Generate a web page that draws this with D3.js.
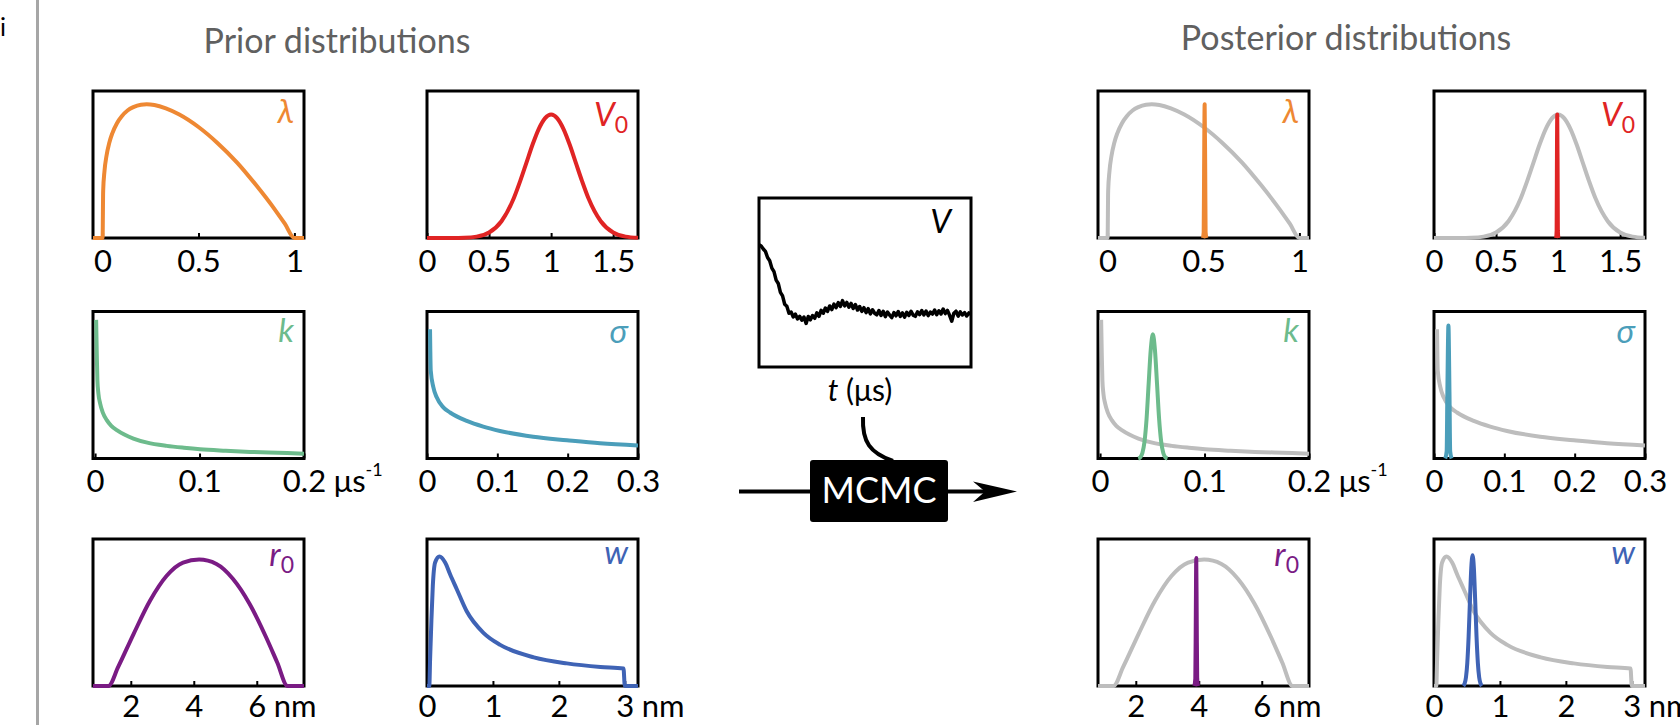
<!DOCTYPE html>
<html>
<head>
<meta charset="utf-8">
<script src="https://cdn.jsdelivr.net/npm/d3@7"></script>
<style>
  body { margin: 0; background: #fff; }
  svg { display: block; font-family: Lato, "Open Sans", sans-serif; }
</style>
</head>
<body>
<div id="viz"></div>
<script>
/*######################################
#   Prior curves #
######################################*/
const lambdaX = [-0.05, 0, 0.003, 0.01, 0.02, 0.035, 0.05, 0.075, 0.1, 0.13, 0.16, 0.2, 0.23, 0.27, 0.33, 0.4, 0.5, 0.6, 0.7, 0.8, 0.9, 0.95, 1.0, 1.05];
const lambdaY = [0, 0, 0.32, 0.457, 0.556, 0.648, 0.71, 0.781, 0.828, 0.867, 0.89, 0.907, 0.91, 0.905, 0.882, 0.84, 0.755, 0.645, 0.515, 0.36, 0.19, 0.097, 0, 0];

const v0X = [0, 0.2, 0.3, 0.4, 0.5, 0.6, 0.7, 0.75, 0.8, 0.85, 0.9, 0.95, 1.0, 1.05, 1.1, 1.15, 1.2, 1.25, 1.3, 1.4, 1.5, 1.6, 1.7];
const v0Y = [0, 0.0003, 0.0018, 0.0094, 0.037, 0.114, 0.272, 0.385, 0.509, 0.634, 0.741, 0.814, 0.84, 0.814, 0.741, 0.634, 0.509, 0.385, 0.272, 0.114, 0.037, 0.0094, 0.0018];

const kX = [0.001, 0.0016, 0.0022, 0.0032, 0.0048, 0.0075, 0.0112, 0.0155, 0.0208, 0.028, 0.0367, 0.05, 0.0686, 0.085, 0.1005, 0.125, 0.1483, 0.175, 0.2];
const kY = [0.943, 0.716, 0.534, 0.44, 0.375, 0.31, 0.261, 0.222, 0.193, 0.163, 0.136, 0.108, 0.086, 0.073, 0.063, 0.053, 0.045, 0.039, 0.033];

const sigmaX = [0.0043, 0.0047, 0.0053, 0.009, 0.0138, 0.0232, 0.0327, 0.0565, 0.08, 0.1038, 0.151, 0.199, 0.246, 0.3];
const sigmaY = [0.879, 0.737, 0.6, 0.485, 0.416, 0.348, 0.313, 0.256, 0.217, 0.1875, 0.148, 0.124, 0.103, 0.088];

const r0X = [0.8, 1.29, 1.6, 2.08, 2.61, 3.14, 3.66, 4.17, 4.72, 5.24, 5.77, 6.3, 6.65, 6.98, 7.5];
const r0Y = [0, 0, 0.13, 0.35, 0.58, 0.75, 0.84, 0.86, 0.83, 0.73, 0.56, 0.33, 0.16, 0, 0];

const wX = [0, 0.035, 0.047, 0.067, 0.088, 0.123, 0.189, 0.275, 0.35, 0.45, 0.6, 0.86, 1.11, 1.62, 2.12, 2.63, 2.98, 3.0, 3.2];
const wY = [0, 0, 0.18, 0.45, 0.68, 0.84, 0.881, 0.84, 0.76, 0.66, 0.51, 0.36, 0.28, 0.195, 0.154, 0.13, 0.12, 0, 0];

/*##########################################
#   Posterior curves #
##########################################*/
const lambdaPostX = [0.497, 0.501, 0.503, 0.506, 0.509, 0.511, 0.515];
const lambdaPostY = [0, 0.04, 0.45, 0.91, 0.45, 0.04, 0];

const v0PostX = [0.984, 0.988, 0.99, 0.993, 0.996, 0.998, 1.002];
const v0PostY = [0, 0.05, 0.45, 0.84, 0.45, 0.05, 0];

const kPostX = [0.0365, 0.0385, 0.0405, 0.0425, 0.0445, 0.0465, 0.0485, 0.0505, 0.0525, 0.0545, 0.0565, 0.0585, 0.0605, 0.0625, 0.0645];
const kPostY = [0, 0.009, 0.037, 0.114, 0.27, 0.51, 0.74, 0.845, 0.74, 0.51, 0.27, 0.114, 0.037, 0.009, 0];

const sigmaPostX = [0.016, 0.018, 0.019, 0.0205, 0.022, 0.023, 0.025];
const sigmaPostY = [0, 0.05, 0.45, 0.905, 0.45, 0.05, 0];

const r0PostX = [3.86, 3.89, 3.905, 3.92, 3.935, 3.95, 3.98];
const r0PostY = [0, 0.05, 0.45, 0.87, 0.45, 0.05, 0];

const wPostX = [0.445, 0.465, 0.485, 0.505, 0.525, 0.545, 0.565, 0.585, 0.605, 0.625, 0.645, 0.665, 0.685, 0.705, 0.725];
const wPostY = [0, 0.018, 0.06, 0.158, 0.336, 0.578, 0.80, 0.89, 0.80, 0.578, 0.336, 0.158, 0.06, 0.018, 0];

/*##############################
#   Measured trace V(t)        #
###############################*/
const traceV = [
  0.724, 0.716, 0.698, 0.684, 0.648, 0.629, 0.585, 0.564, 0.514, 0.494,
  0.442, 0.421, 0.371, 0.359, 0.318, 0.325, 0.296, 0.313, 0.284, 0.300,
  0.277, 0.296, 0.258, 0.299, 0.279, 0.305, 0.288, 0.320, 0.300, 0.335,
  0.318, 0.349, 0.329, 0.361, 0.340, 0.372, 0.351, 0.381, 0.358, 0.393,
  0.362, 0.382, 0.354, 0.376, 0.346, 0.370, 0.337, 0.358, 0.329, 0.351,
  0.322, 0.345, 0.314, 0.339, 0.318, 0.309, 0.334, 0.305, 0.330, 0.298,
  0.325, 0.307, 0.292, 0.322, 0.303, 0.328, 0.299, 0.320, 0.295, 0.324,
  0.305, 0.330, 0.307, 0.300, 0.326, 0.310, 0.334, 0.308, 0.331, 0.304,
  0.325, 0.313, 0.337, 0.309, 0.333, 0.314, 0.343, 0.316, 0.335, 0.306,
  0.271, 0.318, 0.330, 0.301, 0.326, 0.308, 0.322, 0.302, 0.320, 0.311
];

/*##############################
#   Axes                       #
###############################*/
const lambdaDomain = [-0.05, 1.05], lambdaTicks = [0, 0.5, 1];
const v0Domain = [0, 1.7],          v0Ticks = [0, 0.5, 1, 1.5];
const kDomain = [-0.002, 0.2],      kTicks = [0, 0.1, 0.2];
const sigmaDomain = [0, 0.3],       sigmaTicks = [0, 0.1, 0.2, 0.3];
const r0Domain = [0.8, 7.5],        r0Ticks = [2, 4, 6];
const wDomain = [0, 3.2],           wTicks = [0, 1, 2, 3];

const titles = ["Prior distributions", "Posterior distributions"];

/*##############################
#   Layout                     #
###############################*/
const W = 1680, H = 725;
const boxW = 211, boxH = 147;
const priorCols = [93, 427], postCols = [1098, 1434];
const rowTops = [91, 311.5, 539];
const rowPad = [11.5, 11.5, 9];
const gray = "#BDBDBD";
const font = "Lato, 'Open Sans', sans-serif";
const tickFont = 31;

const panels = [
  {label: "λ", sub: "", color: "#EE8833", domain: lambdaDomain, ticks: lambdaTicks, pX: lambdaX, pY: lambdaY, qX: lambdaPostX, qY: lambdaPostY, unit: null, row: 0, col: 0, ly: 32},
  {label: "V", sub: "0", color: "#E02424", domain: v0Domain, ticks: v0Ticks, pX: v0X, pY: v0Y, qX: v0PostX, qY: v0PostY, unit: null, row: 0, col: 1, ly: 35},
  {label: "k", sub: "", color: "#6DBB8C", domain: kDomain, ticks: kTicks, pX: kX, pY: kY, qX: kPostX, qY: kPostY, unit: "μs", row: 1, col: 0, ly: 30},
  {label: "σ", sub: "", color: "#4B9EBA", domain: sigmaDomain, ticks: sigmaTicks, pX: sigmaX, pY: sigmaY, qX: sigmaPostX, qY: sigmaPostY, unit: null, row: 1, col: 1, ly: 31},
  {label: "r", sub: "0", color: "#7A1B84", domain: r0Domain, ticks: r0Ticks, pX: r0X, pY: r0Y, qX: r0PostX, qY: r0PostY, unit: "nm", row: 2, col: 0, ly: 27},
  {label: "w", sub: "", color: "#3F63B5", domain: wDomain, ticks: wTicks, pX: wX, pY: wY, qX: wPostX, qY: wPostY, unit: "nm", row: 2, col: 1, ly: 25}
];

const svg = d3.select("#viz").append("svg")
    .attr("width", W)
    .attr("height", H)
    .style("background", "#fff");

// panel letter and separator on the far left
svg.append("text")
    .attr("x", 0).attr("y", 36)
    .attr("font-size", 25)
    .attr("font-family", font)
    .text("i");
svg.append("line")
    .attr("x1", 37.5).attr("x2", 37.5)
    .attr("y1", 0).attr("y2", H)
    .attr("stroke", "#A6A6A6").attr("stroke-width", 3);

// titles
svg.append("text")
    .attr("x", 337).attr("y", 53)
    .attr("text-anchor", "middle")
    .attr("font-size", 34).attr("fill", "#606060")
    .attr("font-family", font)
    .text(titles[0]);
svg.append("text")
    .attr("x", 1346).attr("y", 50)
    .attr("text-anchor", "middle")
    .attr("font-size", 34).attr("fill", "#606060")
    .attr("font-family", font)
    .text(titles[1]);

function drawPanel(left, top, p, isPost) {
    const g = svg.append("g").attr("transform", "translate(" + left + "," + top + ")");
    const x = d3.scaleLinear().domain(p.domain).range([0, boxW]);
    const y = d3.scaleLinear().domain([0, 1]).range([boxH, 0]);
    const line = d3.line()
        .x(function (d) { return x(d[0]); })
        .y(function (d) { return y(d[1]); })
        .curve(d3.curveMonotoneX);
    const pad = rowPad[p.row];

    // frame
    g.append("rect")
        .attr("width", boxW).attr("height", boxH)
        .attr("fill", "none").attr("stroke", "#000").attr("stroke-width", 3);

    // bottom axis with inward ticks
    const axis = g.append("g")
        .attr("transform", "translate(0," + boxH + ")")
        .call(d3.axisBottom(x).tickValues(p.ticks).tickSize(-5).tickPadding(pad)
            .tickFormat(function (d) { return String(d); }));
    axis.select(".domain").remove();
    axis.selectAll(".tick line").attr("stroke", "#000").attr("stroke-width", 2);
    axis.selectAll(".tick text")
        .attr("font-size", tickFont).attr("fill", "#000").attr("font-family", font);

    // unit written after the last tick label
    if (p.unit) {
        const lastText = axis.selectAll(".tick text").nodes().pop();
        const bb = lastText.getBBox();
        const ux = x(p.ticks[p.ticks.length - 1]) + bb.x + bb.width + 8;
        const u = axis.append("text")
            .attr("x", ux).attr("y", pad).attr("dy", "0.71em")
            .attr("text-anchor", "start")
            .attr("font-size", tickFont).attr("fill", "#000").attr("font-family", font)
            .text(p.unit);
        if (p.unit == "μs") {
            u.append("tspan").attr("dy", -16).attr("font-size", 18).text("-1");
        }
    }

    // curves: grey prior behind the posterior
    g.append("path")
        .datum(d3.zip(p.pX, p.pY))
        .attr("d", line)
        .attr("fill", "none")
        .attr("stroke", isPost ? gray : p.color)
        .attr("stroke-width", 4)
        .attr("stroke-linejoin", "round");
    if (isPost) {
        g.append("path")
            .datum(d3.zip(p.qX, p.qY))
            .attr("d", line)
            .attr("fill", "none")
            .attr("stroke", p.color)
            .attr("stroke-width", 4)
            .attr("stroke-linejoin", "round");
    }

    // parameter name
    const lab = g.append("text")
        .attr("x", boxW - 10).attr("y", p.ly)
        .attr("text-anchor", "end")
        .attr("fill", p.color)
        .attr("font-family", font)
        .attr("font-size", 33);
    lab.append("tspan").attr("font-style", "italic").text(p.label);
    if (p.sub) {
        lab.append("tspan").attr("font-size", 23).attr("dy", 7).text(p.sub);
    }
}

panels.forEach(function (p) {
    drawPanel(priorCols[p.col], rowTops[p.row], p, false);
    drawPanel(postCols[p.col], rowTops[p.row], p, true);
});

/*##############################
#   Middle: data and MCMC      #
###############################*/
const vBox = {x: 759, y: 198, w: 212, h: 169};
const gv = svg.append("g").attr("transform", "translate(" + vBox.x + "," + vBox.y + ")");
const tx = d3.scaleLinear().domain([0, traceV.length - 1]).range([0, vBox.w]);
const vy = d3.scaleLinear().domain([0, 1]).range([vBox.h, 0]);

gv.append("rect")
    .attr("width", vBox.w).attr("height", vBox.h)
    .attr("fill", "none").attr("stroke", "#000").attr("stroke-width", 3);
gv.append("path")
    .datum(traceV)
    .attr("d", d3.line().x(function (d, i) { return tx(i); }).y(function (d) { return vy(d); }))
    .attr("fill", "none").attr("stroke", "#000").attr("stroke-width", 3.5)
    .attr("stroke-linejoin", "round");
gv.append("text")
    .attr("x", vBox.w - 20).attr("y", 35)
    .attr("text-anchor", "end")
    .attr("font-size", 33).attr("font-style", "italic").attr("font-family", font)
    .text("V");

const tl = svg.append("text")
    .attr("x", 860).attr("y", 401)
    .attr("text-anchor", "middle")
    .attr("font-size", 30).attr("font-family", font);
tl.append("tspan").attr("font-style", "italic").text("t");
tl.append("tspan").text(" (μs)");

// connector from the trace down into the sampler box
svg.append("path")
    .attr("d", "M863,417 C862,442 870,453 893,461")
    .attr("fill", "none").attr("stroke", "#000").attr("stroke-width", 4);

// arrow through the MCMC box
svg.append("line")
    .attr("x1", 739).attr("x2", 990)
    .attr("y1", 491.5).attr("y2", 491.5)
    .attr("stroke", "#000").attr("stroke-width", 4);
svg.append("path")
    .attr("d", "M1017,491.5 L973,481.5 L985,491.5 L973,502 Z")
    .attr("fill", "#000");

svg.append("rect")
    .attr("x", 810).attr("y", 460).attr("width", 138).attr("height", 62)
    .attr("rx", 3).attr("fill", "#000");
svg.append("text")
    .attr("x", 879).attr("y", 503)
    .attr("text-anchor", "middle")
    .attr("font-size", 36).attr("fill", "#fff").attr("font-family", font)
    .text("MCMC");
</script>
</body>
</html>
